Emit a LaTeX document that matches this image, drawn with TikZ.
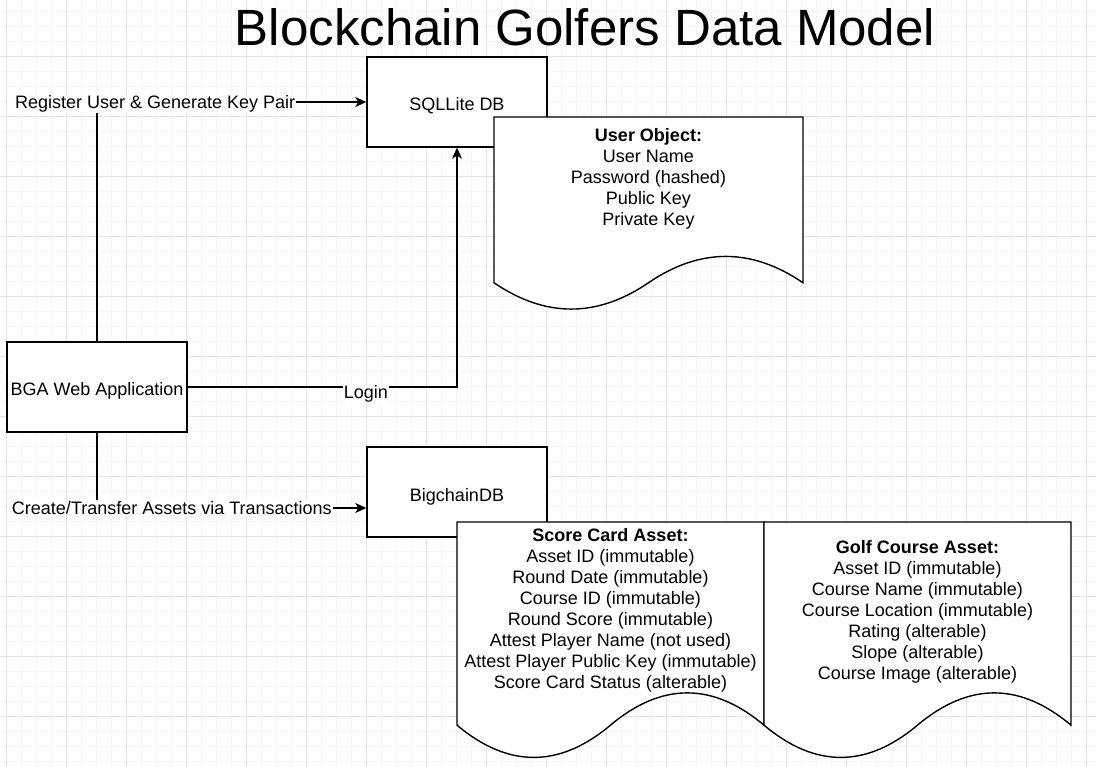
\documentclass[tikz,border=0pt]{standalone}
\usepackage{fontspec}
\setmainfont{Liberation Sans}
\usetikzlibrary{arrows.meta}
\definecolor{minorgrid}{HTML}{F6F6F6}
\definecolor{majorgrid}{HTML}{E4E4E4}
\tikzset{
  bodyfont/.style={font=\fontsize{18}{21}\selectfont},
  box/.style={draw, line width=1.4pt, fill=white, minimum width=180pt, minimum height=90pt, inner sep=0pt, text height=18pt, text depth=0pt, bodyfont},
  docline/.style={draw, line width=1.4pt, fill=white},
  doctext/.style={align=center, inner sep=0pt, bodyfont},
  conn/.style={line width=1.4pt, -{Stealth[length=11pt,width=10pt,inset=3pt]}},
  lbl/.style={fill=white, inner sep=1pt, bodyfont},
  minorline/.style={draw=minorgrid, line width=1pt},
  majorline/.style={draw=majorgrid, line width=1pt}
}
\begin{document}
\begin{tikzpicture}[x=1pt,y=-1pt]
\useasboundingbox (0,0) rectangle (1096,767);
\fill[white] (0,0) rectangle (1096,767);
% grid
\foreach \x in {6.7,21.7,...,1096} \draw[minorline] (\x,0) -- (\x,767);
\foreach \y in {11.7,26.7,...,767} \draw[minorline] (0,\y) -- (1096,\y);
\foreach \x in {6.7,66.7,...,1096} \draw[majorline] (\x,0) -- (\x,767);
\foreach \y in {56.7,116.7,...,767} \draw[majorline] (0,\y) -- (1096,\y);

% title
\node[font=\fontsize{51}{56}\selectfont, inner sep=0pt] (title) at (585,27) {Blockchain Golfers Data Model};

% boxes
\node[box] (sql) at (457,102) {SQLLite DB};
\node[box] (bga) at (97,387) {BGA Web Application};
\node[box] (bc) at (457,492) {BigchainDB};

% User Object document
\path[docline] (494,117) -- (803,117) -- (803,282.75)
  .. controls (751.5,247.65) and (700,247.65) .. (648.5,282.75)
  .. controls (597,317.85) and (545.5,317.85) .. (494,282.75) -- cycle;
\node[doctext] (userobj) at (648.5,179) {\textbf{User Object:}\\User Name\\Password (hashed)\\Public Key\\Private Key};

% Score Card document
\path[docline] (457,522) -- (764,522) -- (764,725.15)
  .. controls (712.8,682.13) and (661.7,682.13) .. (610.5,725.15)
  .. controls (559.3,768.17) and (508.2,768.17) .. (457,725.15) -- cycle;
\node[doctext] (score) at (610.5,610) {\textbf{Score Card Asset:}\\Asset ID (immutable)\\Round Date (immutable)\\Course ID (immutable)\\Round Score (immutable)\\Attest Player Name (not used)\\Attest Player Public Key (immutable)\\Score Card Status (alterable)};

% Golf Course document
\path[docline] (764,522) -- (1071,522) -- (1071,725.15)
  .. controls (1019.8,682.13) and (968.7,682.13) .. (917.5,725.15)
  .. controls (866.3,768.17) and (815.2,768.17) .. (764,725.15) -- cycle;
\node[doctext] (golf) at (917.5,611.5) {\textbf{Golf Course Asset:}\\Asset ID (immutable)\\Course Name (immutable)\\Course Location (immutable)\\Rating (alterable)\\Slope (alterable)\\Course Image (alterable)};

% connectors
\draw[conn] (bga.north) |- node[lbl, pos=0.608, yshift=-2pt] (reglbl) {Register User \& Generate Key Pair} (sql.west);
\draw[conn] (bga.east) -| node[lbl, pos=0.331, yshift=-7pt] (loginlbl) {Login} (sql.south);
\draw[conn] (bga.south) |- node[lbl, pos=0.639] (createlbl) {Create/Transfer Assets via Transactions} ([yshift=-16pt]bc.west);
\end{tikzpicture}
\end{document}
